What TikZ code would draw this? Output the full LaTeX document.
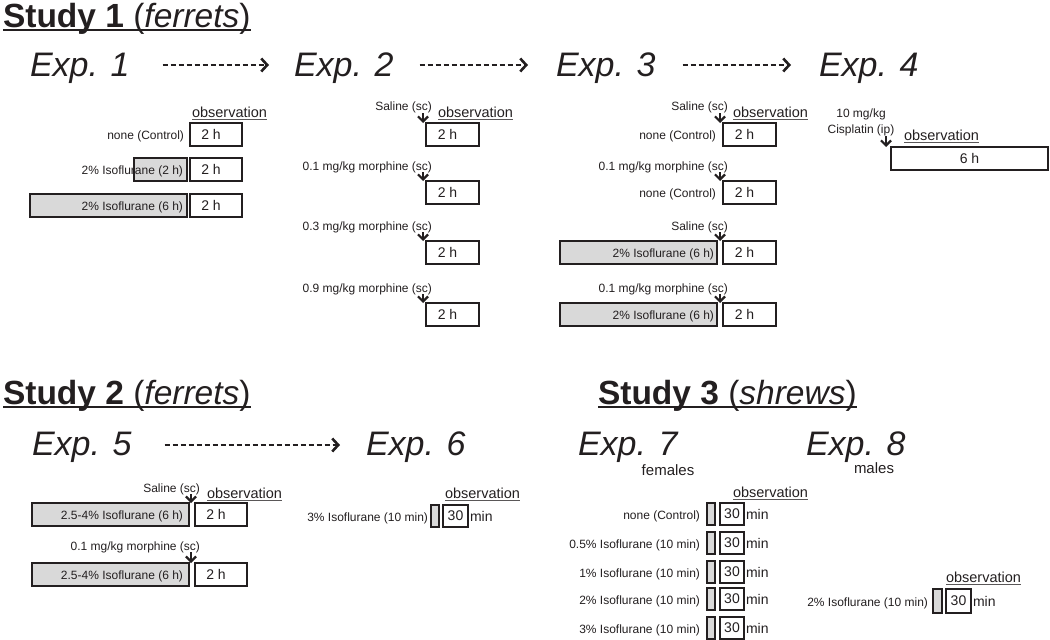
\documentclass[tikz,border=0pt]{standalone}
\usepackage{fontspec}
\setmainfont{Liberation Sans}
\usetikzlibrary{arrows.meta}
\definecolor{ink}{HTML}{231F20}
\definecolor{shade}{HTML}{D9D9D9}
\begin{document}
\begin{tikzpicture}[x=1pt,y=-1pt,
  every node/.style={inner sep=0pt, outer sep=0pt, text=ink},
  title/.style={font=\fontsize{33.5}{37}\selectfont, anchor=base west},
  explbl/.style={font=\fontsize{34}{38}\selectfont\itshape, anchor=base west},
  sexlbl/.style={font=\fontsize{15}{17}\selectfont, anchor=base},
  lbl/.style={font=\fontsize{12}{14}\selectfont, anchor=base east},
  clbl/.style={font=\fontsize{12}{14}\selectfont, anchor=base},
  obslbl/.style={font=\fontsize{14.5}{16}\selectfont, anchor=base west},
  unitlbl/.style={font=\fontsize{14}{16}\selectfont, anchor=base west},
  obsbox/.style={draw=ink, line width=1.4pt, fill=white, anchor=north west, minimum height=23pt, font=\fontsize{14}{16}\selectfont},
  grbox/.style={draw=ink, line width=1.4pt, fill=shade, anchor=north west, minimum height=23pt},
  uline/.style={draw=ink, line width=2.2pt},
  oline/.style={draw=ink!75, line width=1pt},
  dasharr/.style={draw=ink, line width=2.2pt, dash pattern=on 5pt off 3pt, -{Straight Barb[length=6pt,width=13pt,line width=2.6pt]}},
  inj/.style={draw=ink, line width=2pt, -{Straight Barb[length=5pt,width=10pt,line width=2.2pt]}},
]
\useasboundingbox (0,0) rectangle (1050,640);

% ================= Study 1 =================
\node[title] (t1) at (3,27) {\textbf{Study 1} (\textit{ferrets})};
\draw[uline] ([yshift=-3pt]t1.base west) -- ([yshift=-3pt]t1.base east);

\node[explbl] (e1) at (30,76) {Exp. 1};
\node[explbl] (e2) at (294,76) {Exp. 2};
\node[explbl] (e3) at (556,76) {Exp. 3};
\node[explbl] (e4) at (819,76) {Exp. 4};
\draw[dasharr] ([shift={(33pt,11pt)}]e1.base east) -- ([shift={(-25pt,11pt)}]e2.base west);
\draw[dasharr] ([shift={(26pt,11pt)}]e2.base east) -- ([shift={(-28pt,11pt)}]e3.base west);
\draw[dasharr] ([shift={(27pt,11pt)}]e3.base east) -- ([shift={(-28pt,11pt)}]e4.base west);

% ---- Exp. 1
\node[obslbl] (ob1) at (192,117) {observation};
\draw[oline] ([yshift=-2.5pt]ob1.base west) -- ([yshift=-2.5pt]ob1.base east);
\node[obsbox, minimum width=52pt] (o1a) at (190,123) {2 h\hspace*{10pt}};
\node[lbl] (l1a) at (184,139) {none (Control)};
\node[grbox, minimum width=53pt] (g1b) at (134,158) {};
\node[obsbox, minimum width=52pt] (o1b) at (190,158) {2 h\hspace*{10pt}};
\node[lbl] (l1b) at (183,174) {2\% Isoflurane (2 h)};
\node[grbox, minimum width=157pt] (g1c) at (30,194) {};
\node[obsbox, minimum width=52pt] (o1c) at (190,194) {2 h\hspace*{10pt}};
\node[lbl] (l1c) at (183,210) {2\% Isoflurane (6 h)};

% ---- Exp. 2
\node[obslbl] (ob2) at (438,117) {observation};
\draw[oline] ([yshift=-2.5pt]ob2.base west) -- ([yshift=-2.5pt]ob2.base east);
\node[obsbox, minimum width=53pt] (o2a) at (426,123) {2 h\hspace*{10pt}};
\node[obsbox, minimum width=53pt] (o2b) at (426,181) {2 h\hspace*{10pt}};
\node[obsbox, minimum width=53pt] (o2c) at (426,241) {2 h\hspace*{10pt}};
\node[obsbox, minimum width=53pt] (o2d) at (426,303) {2 h\hspace*{10pt}};
\node[lbl] (l2a) at (432,110) {Saline (sc)};
\node[lbl] (l2b) at (432,170) {0.1 mg/kg morphine (sc)};
\node[lbl] (l2c) at (432,230) {0.3 mg/kg morphine (sc)};
\node[lbl] (l2d) at (432,292) {0.9 mg/kg morphine (sc)};
\coordinate (a2a) at (423,113);
\coordinate (a2b) at (423,172);
\coordinate (a2c) at (423,232);
\coordinate (a2d) at (423,294);
\draw[inj] (a2a) -- (a2a |- o2a.north);
\draw[inj] (a2b) -- (a2b |- o2b.north);
\draw[inj] (a2c) -- (a2c |- o2c.north);
\draw[inj] (a2d) -- (a2d |- o2d.north);

% ---- Exp. 3
\node[obslbl] (ob3) at (733,117) {observation};
\draw[oline] ([yshift=-2.5pt]ob3.base west) -- ([yshift=-2.5pt]ob3.base east);
\node[obsbox, minimum width=53pt] (o3a) at (723,123) {2 h\hspace*{10pt}};
\node[obsbox, minimum width=53pt] (o3b) at (723,181) {2 h\hspace*{10pt}};
\node[grbox, minimum width=157pt] (g3c) at (560,241) {};
\node[obsbox, minimum width=53pt] (o3c) at (723,241) {2 h\hspace*{10pt}};
\node[grbox, minimum width=157pt] (g3d) at (560,303) {};
\node[obsbox, minimum width=53pt] (o3d) at (723,303) {2 h\hspace*{10pt}};
\node[lbl] (l3a) at (728,110) {Saline (sc)};
\node[lbl] (n3a) at (716,139) {none (Control)};
\node[lbl] (l3b) at (728,170) {0.1 mg/kg morphine (sc)};
\node[lbl] (n3b) at (716,197) {none (Control)};
\node[lbl] (l3c) at (728,230) {Saline (sc)};
\node[lbl] (n3c) at (714,257) {2\% Isoflurane (6 h)};
\node[lbl] (l3d) at (728,292) {0.1 mg/kg morphine (sc)};
\node[lbl] (n3d) at (714,319) {2\% Isoflurane (6 h)};
\coordinate (a3a) at (720,113);
\coordinate (a3b) at (720,172);
\coordinate (a3c) at (720,232);
\coordinate (a3d) at (720,294);
\draw[inj] (a3a) -- (a3a |- o3a.north);
\draw[inj] (a3b) -- (a3b |- o3b.north);
\draw[inj] (a3c) -- (a3c |- o3c.north);
\draw[inj] (a3d) -- (a3d |- o3d.north);

% ---- Exp. 4
\node[clbl] (l4a) at (861,117) {10 mg/kg};
\node[clbl] (l4b) at (861,133) {Cisplatin (ip)};
\node[obslbl] (ob4) at (904,140) {observation};
\draw[oline] ([yshift=-2.5pt]ob4.base west) -- ([yshift=-2.5pt]ob4.base east);
\node[obsbox, minimum width=157pt] (o4a) at (891,147) {6 h};
\coordinate (a4a) at (886,136);
\draw[inj] (a4a) -- (a4a |- o4a.north);

% ================= Study 2 =================
\node[title] (t2) at (3,404) {\textbf{Study 2} (\textit{ferrets})};
\draw[uline] ([yshift=-3pt]t2.base west) -- ([yshift=-3pt]t2.base east);
\node[explbl] (e5) at (32,455) {Exp. 5};
\node[explbl] (e6) at (366,455) {Exp. 6};
\draw[dasharr] ([shift={(33pt,10pt)}]e5.base east) -- ([shift={(-26pt,10pt)}]e6.base west);

% ---- Exp. 5
\node[obslbl] (ob5) at (207,498) {observation};
\draw[oline] ([yshift=-2.5pt]ob5.base west) -- ([yshift=-2.5pt]ob5.base east);
\node[grbox, minimum width=157pt] (g5a) at (32,503) {};
\node[obsbox, minimum width=52pt] (o5a) at (195,503) {2 h\hspace*{10pt}};
\node[grbox, minimum width=157pt] (g5b) at (32,563) {};
\node[obsbox, minimum width=52pt] (o5b) at (195,563) {2 h\hspace*{10pt}};
\node[lbl] (l5a) at (200,492) {Saline (sc)};
\node[lbl] (n5a) at (183,519) {2.5-4\% Isoflurane (6 h)};
\node[lbl] (l5b) at (200,550) {0.1 mg/kg morphine (sc)};
\node[lbl] (n5b) at (183,579) {2.5-4\% Isoflurane (6 h)};
\coordinate (a5a) at (191,494);
\coordinate (a5b) at (191,552);
\draw[inj] (a5a) -- (a5a |- o5a.north);
\draw[inj] (a5b) -- (a5b |- o5b.north);

% ---- Exp. 6
\node[obslbl] (ob6) at (445,498) {observation};
\draw[oline] ([yshift=-2.5pt]ob6.base west) -- ([yshift=-2.5pt]ob6.base east);
\node[grbox, minimum width=8pt, minimum height=22pt] (g6a) at (431,505) {};
\node[obsbox, minimum width=25pt, minimum height=22pt] (o6a) at (443,505) {30};
\node[unitlbl] (u6a) at (470,521) {min};
\node[lbl] (n6a) at (428,521) {3\% Isoflurane (10 min)};

% ================= Study 3 =================
\node[title] (t3) at (598,404) {\textbf{Study 3} (\textit{shrews})};
\draw[uline] ([yshift=-3pt]t3.base west) -- ([yshift=-3pt]t3.base east);
\node[explbl] (e7) at (578,455) {Exp. 7};
\node[sexlbl] (s7) at (668,475) {females};
\node[explbl] (e8) at (806,455) {Exp. 8};
\node[sexlbl] (s8) at (874,473) {males};

% ---- Exp. 7
\node[obslbl] (ob7) at (733,497) {observation};
\draw[oline] ([yshift=-2.5pt]ob7.base west) -- ([yshift=-2.5pt]ob7.base east);
\foreach \i/\t/\txt in {a/503/none (Control), b/532/0.5\% Isoflurane (10 min), c/561/1\% Isoflurane (10 min), d/588/2\% Isoflurane (10 min), e/617/3\% Isoflurane (10 min)}{
  \node[grbox, minimum width=8pt, minimum height=22pt] (g7\i) at (707,\t) {};
  \node[obsbox, minimum width=24pt, minimum height=22pt] (o7\i) at (720,\t) {30};
  \node[unitlbl] (u7\i) at (746,\t+16) {min};
  \node[lbl] (n7\i) at (700,\t+16) {\txt};
}

% ---- Exp. 8
\node[obslbl] (ob8) at (946,582) {observation};
\draw[oline] ([yshift=-2.5pt]ob8.base west) -- ([yshift=-2.5pt]ob8.base east);
\node[grbox, minimum width=9pt, minimum height=24pt] (g8a) at (933,589) {};
\node[obsbox, minimum width=25pt, minimum height=24pt] (o8a) at (946,589) {30};
\node[unitlbl] (u8a) at (973,606) {min};
\node[lbl] (n8a) at (928,606) {2\% Isoflurane (10 min)};

\end{tikzpicture}
\end{document}
